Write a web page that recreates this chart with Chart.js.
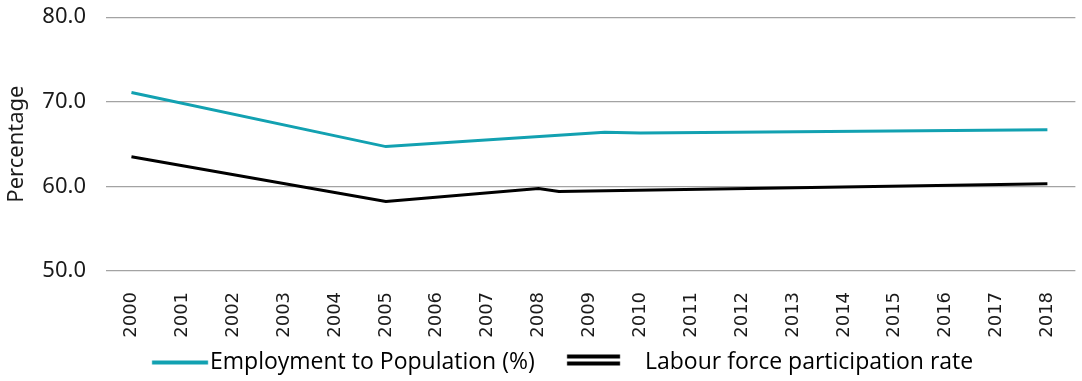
<!DOCTYPE html>
<html>
<head>
<meta charset="utf-8">
<script src="https://cdn.jsdelivr.net/npm/chart.js@4.4.1/dist/chart.umd.min.js"></script>
<style>
  html, body { margin: 0; padding: 0; background: #ffffff; }
  #wrap { width: 1082px; height: 381px; position: relative; }
</style>
</head>
<body>
<div id="wrap"><canvas id="chart"></canvas></div>
<script>
// Year tick labels along the bottom axis
const yearLabels = ['2000', '2001', '2002', '2003', '2004', '2005', '2006', '2007', '2008', '2009',
                    '2010', '2011', '2012', '2013', '2014', '2015', '2016', '2017', '2018'];

// Employment to population ratio (%)
const employmentYears  = [2000, 2005, 2009.3, 2010, 2018];
const employmentValues = [71.1, 64.7, 66.4, 66.3, 66.7];

// Labour force participation rate (%)
const participationYears  = [2000, 2005, 2008, 2008.4, 2018];
const participationValues = [63.5, 58.2, 59.75, 59.4, 60.3];

// Value axis ticks
const yTickValues = [50, 60, 70, 80];

const seriesNames = ['Employment to Population (%)', 'Labour force participation rate'];
const axisTitle = 'Percentage';

const TEAL = '#12a1b1';
const BLACK = '#000000';

const LEGEND_FONT = { family: '"Open Sans", "Noto Sans", sans-serif', size: 23 };

function toPoints(xs, ys) {
  return xs.map((x, i) => ({ x: x, y: ys[i] }));
}

// Legend layout: derive the symbol box width and item spacing from the measured
// text widths so that each label starts where it should.
const mctx = document.createElement('canvas').getContext('2d');
mctx.font = LEGEND_FONT.size + 'px ' + LEGEND_FONT.family;
const t1 = mctx.measureText(seriesNames[0]).width;
const t2 = mctx.measureText(seriesNames[1]).width;
const half = LEGEND_FONT.size / 2;
const text1X = 210, text2X = 645, chartW = 1082;
const gap = text2X - text1X;
// x1 + a = text1X ; a + t1 + p = gap ; x1 = (chartW - 2a - t1 - t2 - p) / 2
let a = 2 * text1X - chartW + gap + t2;
let legendPad = gap - a - t1;
if (legendPad < 2) { legendPad = 2; a = gap - t1 - legendPad; }
const legendBoxW = Math.max(4, a - half);
const x1 = (chartW + legendPad - 2 * a - t1 - t2 - 2 * legendPad) / 2;
const x2 = x1 + a + t1 + legendPad;

function makeSwatch(centerX, from, to, draw) {
  const w = Math.ceil(2 * Math.max(Math.abs(from - centerX), Math.abs(to - centerX))) + 2;
  const h = 24;
  const c = document.createElement('canvas');
  c.width = w; c.height = h;
  const g = c.getContext('2d');
  const left = centerX - w / 2;
  draw(g, from - left, to - left, h);
  return c;
}

const blueSwatch = makeSwatch(x1 + legendBoxW / 2, 152, 208, (g, a0, b0, h) => {
  g.fillStyle = TEAL;
  g.fillRect(a0, h / 2 - 2, b0 - a0, 4);
});
const blackSwatch = makeSwatch(x2 + legendBoxW / 2, 567, 620, (g, a0, b0, h) => {
  g.fillStyle = BLACK;
  g.fillRect(a0, h / 2 - 8, b0 - a0, 4);
  g.fillRect(a0, h / 2 - 1, b0 - a0, 4);
});
const swatches = [blueSwatch, blackSwatch];

new Chart(document.getElementById('chart'), {
  type: 'line',
  data: {
    datasets: [
      {
        label: seriesNames[0],
        data: toPoints(employmentYears, employmentValues),
        borderColor: TEAL,
        backgroundColor: TEAL,
        borderWidth: 3,
        pointRadius: 0,
        tension: 0,
        fill: false
      },
      {
        label: seriesNames[1],
        data: toPoints(participationYears, participationValues),
        borderColor: BLACK,
        backgroundColor: BLACK,
        borderWidth: 3,
        pointRadius: 0,
        tension: 0,
        fill: false
      }
    ]
  },
  options: {
    responsive: true,
    maintainAspectRatio: false,
    animation: false,
    devicePixelRatio: 1,
    layout: { padding: { top: 0, right: 0, left: 0, bottom: -3 } },
    plugins: {
      tooltip: { enabled: false },
      legend: {
        position: 'bottom',
        align: 'center',
        labels: {
          usePointStyle: true,
          pointStyleWidth: legendBoxW,
          padding: legendPad,
          color: '#1a1a1a',
          font: LEGEND_FONT,
          generateLabels: (chart) => chart.data.datasets.map((ds, i) => ({
            text: ds.label,
            pointStyle: swatches[i],
            fillStyle: ds.borderColor,
            strokeStyle: ds.borderColor,
            lineWidth: 0,
            hidden: false,
            datasetIndex: i
          }))
        }
      }
    },
    scales: {
      x: {
        type: 'linear',
        min: 1999.5,
        max: 2018.55,
        afterBuildTicks: (s) => { s.ticks = yearLabels.map((l) => ({ value: Number(l) })); },
        afterFit: (s) => { s.height = 71; },
        ticks: {
          autoSkip: false,
          minRotation: 90,
          maxRotation: 90,
          padding: 13,
          color: '#1a1a1a',
          font: { family: '"DejaVu Sans", sans-serif', size: 18 },
          callback: (v, i) => yearLabels[i]
        },
        grid: { display: false },
        border: { display: false }
      },
      y: {
        type: 'linear',
        min: 50,
        max: 80,
        afterBuildTicks: (s) => { s.ticks = yTickValues.map((v) => ({ value: v })); },
        afterFit: (s) => { s.width = 106; },
        ticks: {
          padding: 4,
          color: '#1a1a1a',
          font: { family: '"Noto Sans", sans-serif', size: 22 },
          callback: (v) => Number(v).toFixed(1)
        },
        grid: { color: '#a3a3a3', lineWidth: 1.3, drawTicks: true, tickLength: 16, tickColor: 'rgba(0,0,0,0)' },
        border: { display: false },
        title: {
          display: true,
          text: axisTitle,
          color: '#1a1a1a',
          font: { family: '"Noto Sans", sans-serif', size: 22 },
          padding: { top: 4, bottom: 0 }
        }
      }
    }
  }
});
</script>
</body>
</html>
